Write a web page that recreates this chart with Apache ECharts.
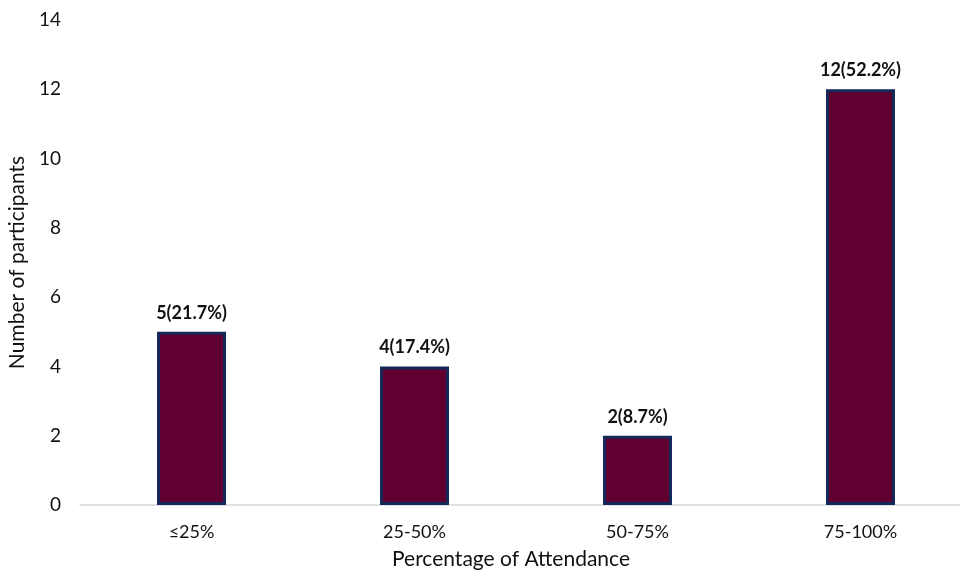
<!DOCTYPE html>
<html>
<head>
<meta charset="utf-8">
<script src="https://cdn.jsdelivr.net/npm/echarts@6/dist/echarts.min.js"></script>
<style>
  html, body { margin: 0; padding: 0; background: #fff; }
  #chart { width: 960px; height: 572px; }
</style>
</head>
<body>
<div id="chart"></div>
<script>
// Attendance bands and how many participants fell into each
const categories = ['≤25%', '25-50%', '50-75%', '75-100%'];
const participants = [5, 4, 2, 12];
const percentages = [21.7, 17.4, 8.7, 52.2];
const yTicks = { min: 0, max: 14, interval: 2 };

const FONT = 'Lato, "Noto Sans", sans-serif';

const chart = echarts.init(document.getElementById('chart'));
chart.setOption({
  animation: false,
  backgroundColor: '#ffffff',
  grid: { left: 80, top: 20, bottom: 67, width: 892, outerBoundsMode: 'none', containLabel: false },
  xAxis: {
    type: 'category',
    data: categories,
    axisLine: { lineStyle: { color: '#d9d9d9', width: 1.5 } },
    axisTick: { show: false },
    axisLabel: { color: '#111111', fontSize: 18, fontFamily: FONT, margin: 18 },
    name: 'Percentage of Attendance',
    nameLocation: 'middle',
    nameGap: 44,
    nameTextStyle: { color: '#111111', fontSize: 21, fontFamily: FONT, padding: [0, 30, 0, 0] }
  },
  yAxis: {
    type: 'value',
    min: yTicks.min,
    max: yTicks.max,
    interval: yTicks.interval,
    splitLine: { show: false },
    axisLine: { show: false },
    axisTick: { show: false },
    axisLabel: { color: '#111111', fontSize: 19, fontFamily: FONT, margin: 19 },
    name: 'Number of participants',
    nameLocation: 'middle',
    nameGap: 50,
    nameTextStyle: { color: '#111111', fontSize: 21, fontFamily: FONT }
  },
  series: [{
    type: 'bar',
    data: participants,
    barWidth: 69,
    itemStyle: { color: '#600030', borderColor: '#14285a', borderWidth: 3 },
    label: {
      show: true,
      position: 'top',
      distance: 10,
      color: '#111111',
      fontSize: 18,
      fontWeight: 'bold',
      fontFamily: FONT,
      formatter: p => p.value + '(' + percentages[p.dataIndex].toFixed(1) + '%)'
    }
  }]
});
</script>
</body>
</html>
